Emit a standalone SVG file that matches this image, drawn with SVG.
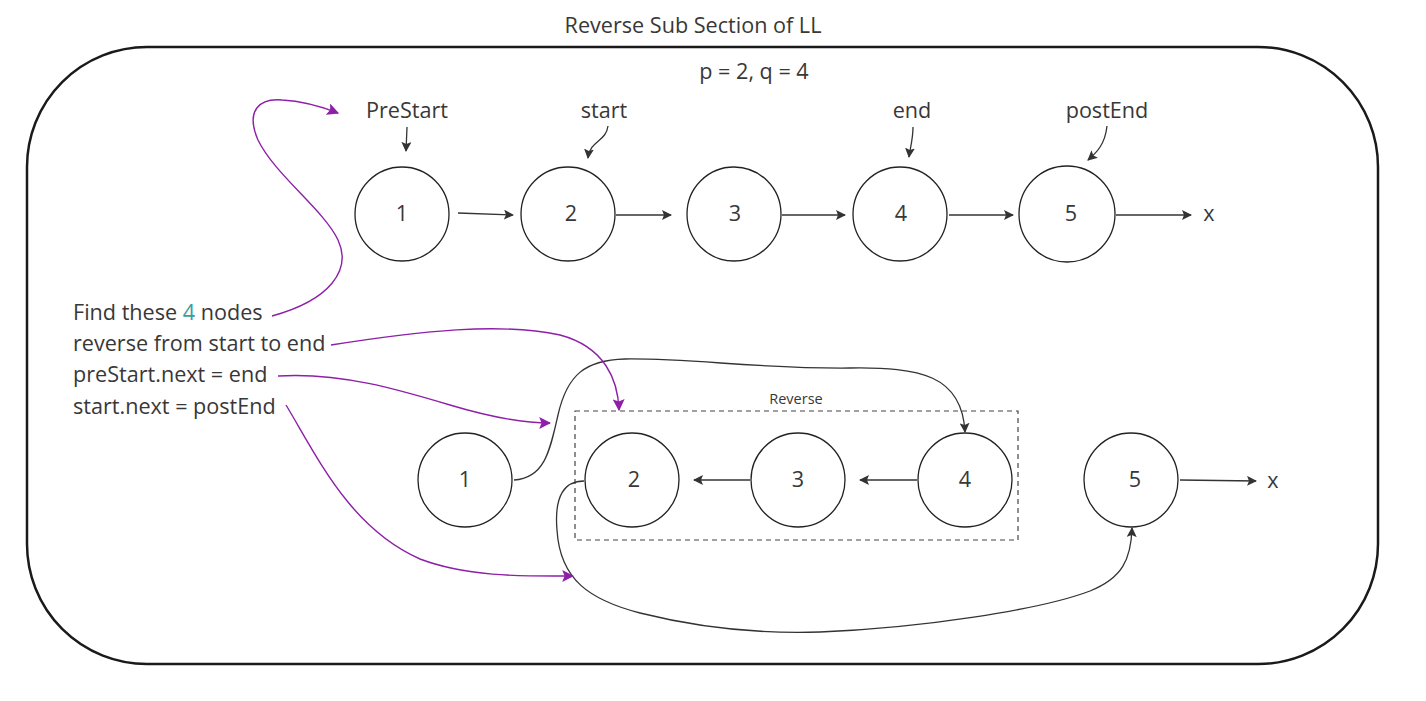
<svg xmlns="http://www.w3.org/2000/svg" width="1426" height="701" viewBox="0 0 1426 701">
<defs>
<style>
text{font-family:"Open Sans","Noto Sans","DejaVu Sans",sans-serif;fill:#383838;}
.t{font-size:21.6px;text-anchor:middle;}
.l{font-size:21.6px;}
.node{fill:#fff;stroke:#222;stroke-width:1.3;}
.c{fill:none;stroke:#333;stroke-width:1.3;}
.p{fill:none;stroke:#8e1fa8;stroke-width:1.4;}
</style>
<marker id="ah" viewBox="0 0 10 10" refX="9" refY="5" markerWidth="10" markerHeight="10" markerUnits="userSpaceOnUse" orient="auto">
<path d="M0,0 L10,5 L0,10 L2,5 z" fill="#333"/>
</marker>
<marker id="ap" viewBox="0 0 10 10" refX="9" refY="5" markerWidth="12" markerHeight="12" markerUnits="userSpaceOnUse" orient="auto">
<path d="M0,0 L10,5 L0,10 L2,5 z" fill="#8e1fa8"/>
</marker>
</defs>
<rect width="1426" height="701" fill="#fff"/>
<text class="t" x="693" y="33">Reverse Sub Section of LL</text>
<rect x="27" y="47" width="1351" height="617" rx="120" ry="120" fill="none" stroke="#1a1a1a" stroke-width="2.5"/>
<text class="t" x="754" y="79">p = 2, q = 4</text>
<g id="labels">
<text class="t" x="407" y="118">PreStart</text>
<text class="t" x="604" y="118">start</text>
<text class="t" x="912" y="118">end</text>
<text class="t" x="1107" y="118">postEnd</text>
</g>
<g id="top-row">
<g id="t1"><circle class="node" cx="402" cy="214" r="47"/><text class="t" x="402" y="221">1</text></g>
<g id="t2"><circle class="node" cx="568" cy="214" r="47"/><text class="t" x="571" y="221">2</text></g>
<g id="t3"><circle class="node" cx="734" cy="214" r="47"/><text class="t" x="735" y="221">3</text></g>
<g id="t4"><circle class="node" cx="900" cy="214" r="47"/><text class="t" x="901" y="221">4</text></g>
<g id="t5"><circle class="node" cx="1067" cy="214" r="48"/><text class="t" x="1071" y="221">5</text></g>
<g id="tx"><text class="t" x="1209" y="221">x</text></g>
</g>
<g id="bottom-row">
<g id="b1"><circle class="node" cx="465" cy="480" r="47"/><text class="t" x="465" y="487">1</text></g>
<g id="reverse-box"><rect x="575" y="411" width="443" height="129" fill="none" stroke="#444" stroke-width="1.2" stroke-dasharray="5,4"/><text x="796" y="404" font-size="14.5" text-anchor="middle">Reverse</text></g>
<g id="b2"><circle class="node" cx="632" cy="480" r="47"/><text class="t" x="634" y="487">2</text></g>
<g id="b3"><circle class="node" cx="798" cy="480" r="47"/><text class="t" x="798" y="487">3</text></g>
<g id="b4"><circle class="node" cx="965" cy="480" r="47"/><text class="t" x="965" y="487">4</text></g>
<g id="b5"><circle class="node" cx="1131" cy="480" r="47"/><text class="t" x="1135" y="487">5</text></g>
<g id="bx"><text class="t" x="1273" y="488">x</text></g>
</g>
<g id="notes">
<text class="l" x="73" y="320">Find these <tspan style="fill:#3a9e9e">4</tspan> nodes</text>
<text class="l" x="73" y="351">reverse from start to end</text>
<text class="l" x="73" y="382">preStart.next = end</text>
<text class="l" x="73" y="414">start.next = postEnd</text>
</g>
<g id="connectors">
<path class="c" d="M407,127 L406,151" marker-end="url(#ah)"/>
<path class="c" d="M608,126 C606,142 590,140 588,158" marker-end="url(#ah)"/>
<path class="c" d="M913,127 C913,140 910,148 909,157" marker-end="url(#ah)"/>
<path class="c" d="M1107,126 C1105,145 1096,153 1088,160" marker-end="url(#ah)"/>
<path class="c" d="M458,213 L513,215" marker-end="url(#ah)"/>
<path class="c" d="M616,215 L671,215" marker-end="url(#ah)"/>
<path class="c" d="M782,215 L845,215" marker-end="url(#ah)"/>
<path class="c" d="M949,215 L1013,215" marker-end="url(#ah)"/>
<path class="c" d="M1116,215 L1191,215" marker-end="url(#ah)"/>
<path class="c" d="M750,480 L694,480" marker-end="url(#ah)"/>
<path class="c" d="M917,480 L860,480" marker-end="url(#ah)"/>
<path class="c" d="M1180,480 L1256,481" marker-end="url(#ah)"/>
<path class="c" d="M514,480 C545,478 550,450 558,415 C567,375 585,360 625,359 C690,358 760,369 850,368 C920,367 962,375 965,432" marker-end="url(#ah)"/>
<path class="c" d="M584,481 C565,481 554,495 557,530 C560,580 590,600 640,613 C700,628 760,634 820,632 C920,628 1040,610 1090,591 C1122,578 1131,560 1132,528" marker-end="url(#ah)"/>
<path class="p" d="M272,316 C330,300 352,270 338,240 C324,210 275,175 258,140 C245,110 260,98 282,100 C300,101 320,106 338,113" marker-end="url(#ap)"/>
<path class="p" d="M331,345 C420,331 500,322 560,335 C605,347 618,380 619,410" marker-end="url(#ap)"/>
<path class="p" d="M278,376 C340,372 400,390 450,405 C490,417 520,423 550,423" marker-end="url(#ap)"/>
<path class="p" d="M286,405 C318,458 350,528 420,559 C470,578 530,576 573,576" marker-end="url(#ap)"/>
</g>
</svg>
